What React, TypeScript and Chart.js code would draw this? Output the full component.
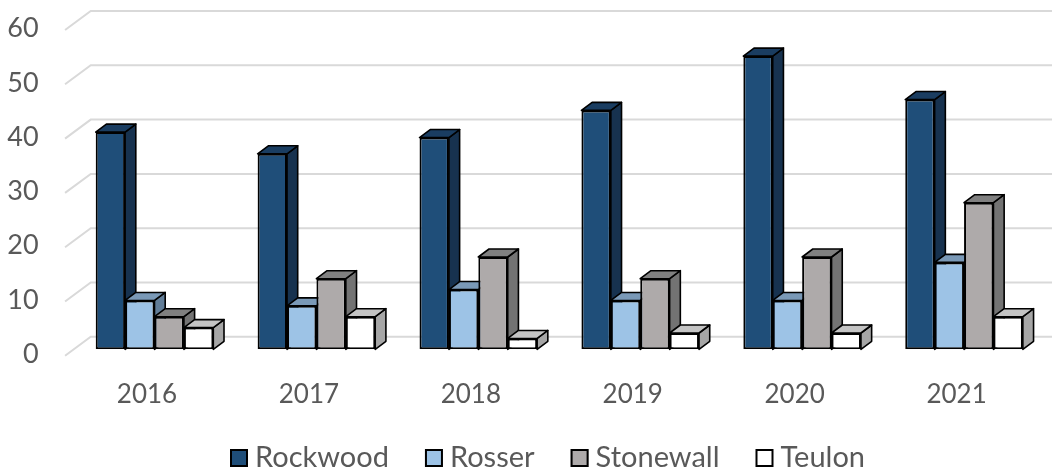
import React, { useEffect, useRef } from 'react';
import { Chart, registerables } from 'chart.js';

Chart.register(...registerables);

const categories = ['2016', '2017', '2018', '2019', '2020', '2021'];
const seriesNames = ['Rockwood', 'Rosser', 'Stonewall', 'Teulon'];
const rockwood = [40, 36, 39, 44, 54, 46];
const rosser = [9, 8, 11, 9, 9, 16];
const stonewall = [6, 13, 17, 13, 17, 27];
const teulon = [4, 6, 2, 3, 3, 6];
const yMin = 0;
const yMax = 60;
const yStep = 10;

const frontColors = ['#1F4E79', '#9DC3E6', '#AEAAAA', '#FFFFFF'];
const topColors = ['#1A3D61', '#7A99B7', '#808080', '#C4C4C4'];
const sideColors = ['#17324F', '#617D98', '#737373', '#A6A6A6'];

const FONT = 'Lato, "Open Sans", sans-serif';
const TEXT_COLOR = '#595959';
const DX = 10.7;
const DY = -8;

const bar3dPlugin = {
  id: 'bar3d',
  beforeDatasetsDraw(chart: any) {
    const ctx = chart.ctx;
    const ys = chart.scales.y;
    const area = chart.chartArea;
    ctx.save();
    // back wall gridlines with left diagonal
    ctx.strokeStyle = '#D9D9D9';
    ctx.lineWidth = 2;
    ys.ticks.forEach((t: any) => {
      const yf = ys.getPixelForValue(t.value);
      ctx.beginPath();
      ctx.moveTo(area.left - 8.5, yf + 6.5);
      ctx.lineTo(area.left + 17.2, yf - 12.5);
      ctx.lineTo(chart.width, yf - 12.5);
      ctx.stroke();
    });
    // top and side faces, painter's order left to right
    ctx.strokeStyle = '#000000';
    ctx.lineWidth = 1.6;
    ctx.lineJoin = 'round';
    const n = chart.data.labels.length;
    for (let i = 0; i < n; i++) {
      chart.data.datasets.forEach((_ds: any, d: number) => {
        const meta = chart.getDatasetMeta(d);
        const el = meta.data[i];
        if (!el) return;
        const p = el.getProps(['x', 'y', 'base', 'width'], true);
        const L = p.x - p.width / 2;
        const R = p.x + p.width / 2;
        const T = p.y;
        const B = p.base;
        // side
        ctx.beginPath();
        ctx.moveTo(R, T);
        ctx.lineTo(R + DX, T + DY);
        ctx.lineTo(R + DX, B + DY);
        ctx.lineTo(R, B);
        ctx.closePath();
        ctx.fillStyle = sideColors[d];
        ctx.fill();
        ctx.stroke();
        // top
        ctx.beginPath();
        ctx.moveTo(L, T);
        ctx.lineTo(R, T);
        ctx.lineTo(R + DX, T + DY);
        ctx.lineTo(L + DX, T + DY);
        ctx.closePath();
        ctx.fillStyle = topColors[d];
        ctx.fill();
        ctx.stroke();
      });
    }
    ctx.restore();
  },
  afterDraw(chart: any) {
    const ctx = chart.ctx;
    ctx.save();
    ctx.font = `29px ${FONT}`;
    ctx.textBaseline = 'alphabetic';
    ctx.textAlign = 'left';
    let x = 230;
    const boxTop = 449;
    const box = 18;
    chart.data.datasets.forEach((ds: any, d: number) => {
      ctx.fillStyle = frontColors[d];
      ctx.fillRect(x, boxTop, box, box);
      ctx.strokeStyle = '#000000';
      ctx.lineWidth = 2;
      ctx.strokeRect(x + 1, boxTop + 1, box - 2, box - 2);
      const tx = x + box + 7;
      ctx.fillStyle = TEXT_COLOR;
      ctx.fillText(ds.label, tx, 467);
      const w = ctx.measureText(ds.label).width;
      x = tx + w + 36;
    });
    ctx.restore();
  },
};

export default function App() {
  const canvasRef = useRef<HTMLCanvasElement | null>(null);

  useEffect(() => {
    if (!canvasRef.current) return;
    const seriesValues = [rockwood, rosser, stonewall, teulon];
    const chart = new Chart(canvasRef.current, {
      type: 'bar',
      data: {
        labels: categories,
        datasets: seriesNames.map((name, d) => ({
          label: name,
          data: seriesValues[d],
          backgroundColor: frontColors[d],
          borderColor: '#000000',
          borderWidth: 2,
          borderSkipped: false,
          categoryPercentage: 0.7264,
          barPercentage: 1,
        })),
      },
      options: {
        animation: false,
        responsive: true,
        maintainAspectRatio: false,
        layout: { padding: { left: 0, right: 7, top: 23.5, bottom: 0 } },
        plugins: {
          legend: { display: false },
          tooltip: { enabled: false },
          title: { display: false },
        },
        scales: {
          x: {
            grid: { display: false, drawTicks: false },
            border: { display: false },
            ticks: {
              color: TEXT_COLOR,
              font: { family: FONT, size: 26 },
              padding: 30,
              labelOffset: -7.5,
              maxRotation: 0,
            },
            afterFit: (scale: any) => {
              scale.height = 119.7;
            },
          },
          y: {
            min: yMin,
            max: yMax,
            grid: { display: false, drawTicks: false },
            border: { display: false },
            ticks: {
              stepSize: yStep,
              color: TEXT_COLOR,
              font: { family: FONT, size: 27 },
              padding: 35,
              labelOffset: 5,
            },
            afterFit: (scale: any) => {
              scale.width = 73.55;
              scale.paddingTop = 0;
              scale.paddingBottom = 0;
            },
          },
        },
      },
      plugins: [bar3dPlugin],
    });
    return () => chart.destroy();
  }, []);

  return (
    <div style={{ position: 'fixed', left: 0, top: 0, width: 1052, height: 469, background: '#ffffff' }}>
      <canvas ref={canvasRef} />
    </div>
  );
}
